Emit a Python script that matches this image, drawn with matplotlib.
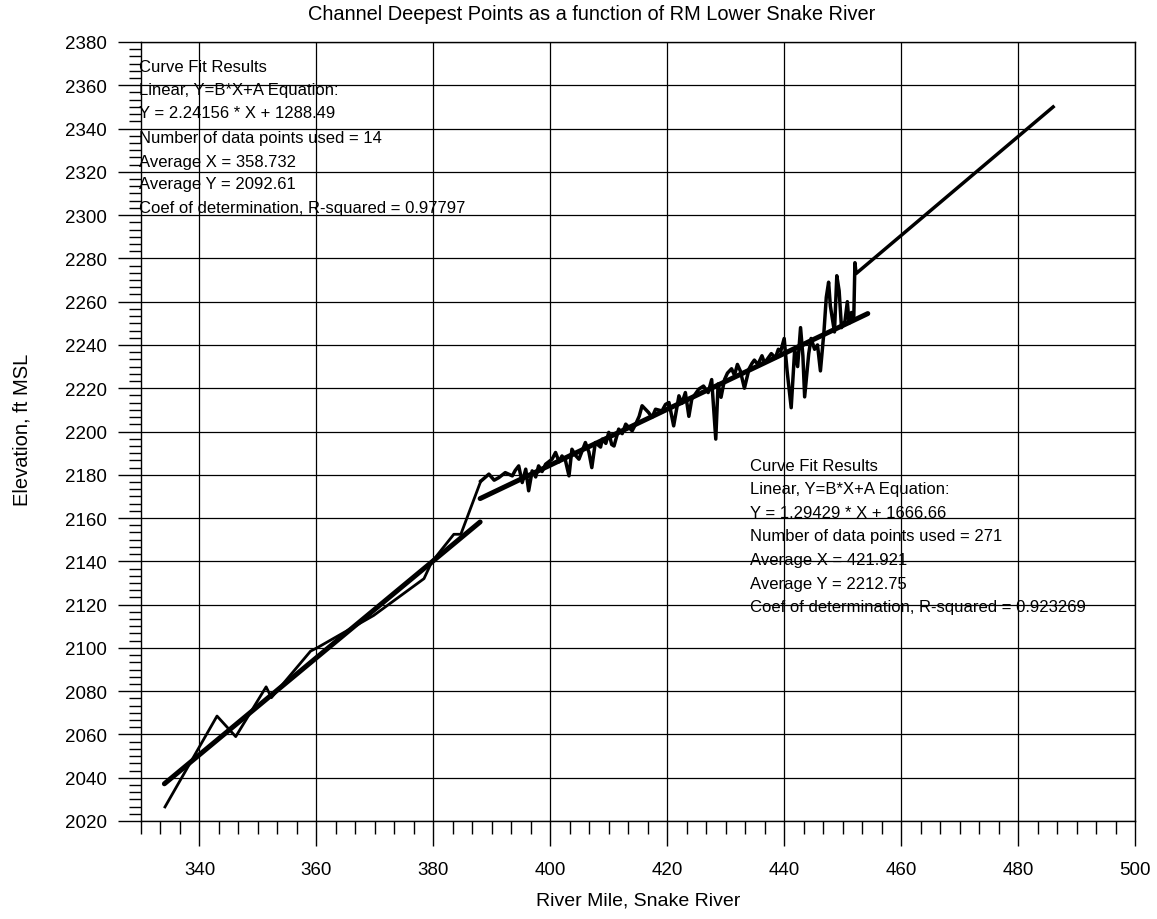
import matplotlib
matplotlib.use("Agg")
import matplotlib.pyplot as plt
from matplotlib.ticker import FixedLocator

plt.rcParams['font.family'] = ['Liberation Sans', 'DejaVu Sans']

# ---------------- data ----------------
# lower reach observed deepest points
lower_x = [334.1, 343.0, 346.2, 351.4, 352.3, 359.0, 360.1, 369.8, 378.4, 379.7, 383.5, 384.7, 388.1]
lower_y = [2026.5, 2068.5, 2059.0, 2082.0, 2077.0, 2098.5, 2100.0, 2115.0, 2132.0, 2139.6, 2152.5, 2152.5, 2177.0]

# upper reach observed deepest points (noisy)
upper_x = [388.1, 389.5, 390.4, 391.2, 392.3, 393.5, 394.0, 394.6, 395.2, 395.8, 396.3, 396.9,
           397.5, 398.0, 398.6, 399.2, 400.3, 400.9, 401.5, 402.0, 402.6, 403.2, 403.7, 404.3, 404.9, 406.0, 406.6, 407.1,
           407.7, 408.6, 408.9, 409.5, 410.0, 410.5, 410.9, 411.7, 412.3, 412.9, 414.0, 414.6,
           415.2, 415.7, 416.8, 417.4, 418.0, 419.1, 419.7, 420.3, 421.1, 422.0, 422.5, 423.1, 423.7, 424.2,
           425.4, 426.2, 427.0, 427.6, 428.3, 428.7, 429.2, 429.8, 430.3, 431.0,
           431.5, 432.0, 432.5, 433.2, 434.0, 434.5, 434.9, 435.5, 436.2, 436.6, 437.0, 437.8,
           438.5, 439.0, 439.4, 440.0, 440.5, 441.2, 441.8, 442.3, 442.8, 443.2, 443.5,
           444.2, 444.6, 445.2, 445.7, 446.2, 446.8, 447.2, 447.6, 447.9, 448.6,
           449.0, 449.4, 449.8, 450.4, 450.8, 451.1, 451.5, 451.9, 452.1, 452.3,
           486.0]
upper_y = [2177.0, 2180.3, 2177.5, 2178.7, 2181.0, 2179.5, 2182.0, 2184.1, 2176.4, 2182.6, 2172.6, 2181.8,
           2179.0, 2184.1, 2181.5, 2184.9, 2187.2, 2190.3, 2186.0, 2188.7, 2186.5, 2179.5, 2191.8, 2189.0, 2187.2, 2194.9, 2190.5, 2183.3,
           2194.9, 2192.8, 2196.5, 2194.5, 2199.6, 2194.0, 2193.3, 2201.1, 2199.0, 2203.4, 2200.3, 2203.4,
           2207.0, 2211.9, 2208.8, 2206.5, 2210.3, 2209.5, 2212.5, 2213.4, 2202.6, 2216.5, 2213.0, 2218.0, 2207.0, 2215.0,
           2219.6, 2221.0, 2218.0, 2224.0, 2196.5, 2222.0, 2215.8, 2224.0, 2227.0, 2229.0,
           2226.0, 2231.0, 2228.0, 2220.0, 2229.0, 2231.5, 2233.0, 2231.0, 2235.0, 2232.0, 2233.0, 2236.0,
           2234.0, 2238.0, 2237.0, 2243.0, 2228.0, 2211.0, 2238.0, 2230.0, 2248.0, 2235.0, 2216.0,
           2236.0, 2243.0, 2238.0, 2240.0, 2228.0, 2246.0, 2262.0, 2269.0, 2258.0, 2246.0,
           2272.0, 2265.0, 2248.0, 2251.0, 2260.0, 2250.0, 2255.0, 2252.0, 2278.0, 2273.0,
           2350.0]

# linear fit lines (end points)
fit1_x = [334.0, 388.0]
fit1_y = [2037.2, 2158.2]
fit2_x = [388.0, 454.3]
fit2_y = [2169.0, 2254.5]

x_ticks = [340, 360, 380, 400, 420, 440, 460, 480, 500]
y_ticks = list(range(2020, 2381, 20))
minor_step = 20 / 6

title = "Channel Deepest Points as a function of RM Lower Snake River"
xlabel = "River Mile, Snake River"
ylabel = "Elevation, ft MSL"

box1 = ["Curve Fit Results",
        "Linear, Y=B*X+A Equation:",
        "Y = 2.24156 * X + 1288.49",
        "Number of data points used = 14",
        "Average X = 358.732",
        "Average Y = 2092.61",
        "Coef of determination, R-squared = 0.97797"]
box2 = ["Curve Fit Results",
        "Linear, Y=B*X+A Equation:",
        "Y = 1.29429 * X + 1666.66",
        "Number of data points used = 271",
        "Average X = 421.921",
        "Average Y = 2212.75",
        "Coef of determination, R-squared = 0.923269"]

# ---------------- figure ----------------
W, H = 1157, 920
fig = plt.figure(figsize=(W / 100, H / 100), dpi=100)
fig.patch.set_facecolor('white')
ax = fig.add_axes([141 / W, 1 - 822 / H, (1135 - 141) / W, (822 - 43) / H])

ax.plot(fit1_x, fit1_y, color='black', lw=3.6, solid_capstyle='round', zorder=3)
ax.plot(fit2_x, fit2_y, color='black', lw=3.6, solid_capstyle='round', zorder=3)
ax.plot(lower_x, lower_y, color='black', lw=2.0, zorder=4)
ax.plot(upper_x, upper_y, color='black', lw=2.5, zorder=4)

ax.set_xlim(330, 500)
ax.set_ylim(2020, 2380)
ax.xaxis.set_major_locator(FixedLocator(x_ticks))
ax.yaxis.set_major_locator(FixedLocator(y_ticks))
xminor = [330 + i * minor_step for i in range(52) if i % 6 != 3]
yminor = [2020 + i * minor_step for i in range(109) if i % 6 != 0]
ax.xaxis.set_minor_locator(FixedLocator(xminor))
ax.yaxis.set_minor_locator(FixedLocator(yminor))
ax.grid(True, which='major', color='black', lw=0.9)
ax.xaxis.set_tick_params(which='major', direction='out', length=18, width=1.0,
                         labelsize=13.5, pad=11)
ax.xaxis.set_tick_params(which='minor', direction='out', length=9, width=1.0)
ax.yaxis.set_tick_params(which='major', direction='out', length=16.5, width=1.0,
                         labelsize=13.5, pad=8)
ax.yaxis.set_tick_params(which='minor', direction='out', length=8.5, width=1.0)
for s in ax.spines.values():
    s.set_color('black')
    s.set_linewidth(1.0)

fig.text(592 / W, 1 - 15 / H, title, ha='center', va='center', fontsize=14.4)
fig.text(638 / W, 1 - 901 / H, xlabel, ha='center', va='center', fontsize=14)
fig.text(22 / W, 1 - 430 / H, ylabel, ha='center', va='center', rotation=90, fontsize=14.5)

ys1 = [67, 91, 114, 138, 162, 185, 209]
for t, yy in zip(box1, ys1):
    fig.text(139 / W, 1 - yy / H, t, ha='left', va='center', fontsize=12)
ys2 = [467, 490, 514, 537, 561, 584, 608]
for t, yy in zip(box2, ys2):
    fig.text(750 / W, 1 - yy / H, t, ha='left', va='center', fontsize=12)

fig.savefig('out.png', dpi=100)
